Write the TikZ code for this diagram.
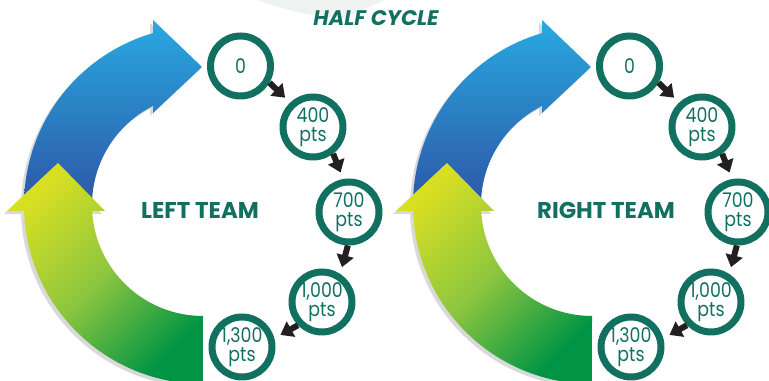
\documentclass[tikz,border=0pt]{standalone}
\usepackage{fontspec}
\setmainfont{Poppins}
\newfontfamily\ptsfont[FakeStretch=0.86]{Poppins}
\usetikzlibrary{arrows.meta,positioning}
\definecolor{teamteal}{HTML}{127060}
\definecolor{arrowblack}{HTML}{231F20}
\definecolor{bluetop}{HTML}{29A9E1}
\definecolor{bluebot}{HTML}{2D56A6}
\definecolor{greentop}{HTML}{D7DF23}
\definecolor{greenmid}{HTML}{8CC63F}
\definecolor{greenbot}{HTML}{009444}
\definecolor{shadowgray}{HTML}{D9D9D9}
\definecolor{swooshgray}{HTML}{EEF3F2}
\begin{document}
\begin{tikzpicture}
[
x=0.02cm, y=-0.02cm,
ptsnode/.style={circle, draw=teamteal, line width=0.14cm, fill=white, minimum size=1.2cm, inner sep=0pt, align=center, text=teamteal, font=\ptsfont\fontsize{11.5}{10.5}\selectfont},
stepflow/.style={draw=arrowblack, line width=0.12cm, -{Triangle[width=0.34cm,length=0.24cm]}, shorten >=0.14cm},
teamlabel/.style={font=\bfseries\fontsize{13}{15}\selectfont, text=teamteal},
titlelabel/.style={font=\bfseries\itshape\fontsize{12}{14}\selectfont, text=teamteal},
blueshade/.style={top color=bluetop, bottom color=bluebot},
greenshade/.style={top color=greentop, bottom color=greenbot, middle color=greenmid, shading angle=45},
shadowfill/.style={fill=shadowgray},
]
\fill[white] (0,0) rectangle (769,381);
\useasboundingbox (0,0) rectangle (769,381);
%draw the faint swoosh and the title
\fill[swooshgray] (258,0) .. controls (290,12) and (320,18) .. (345,18) -- (385,0) -- cycle;
\node[titlelabel] (title) at (376,18) {HALF CYCLE};

%draw the left team
\begin{scope}
\fill[shadowfill,shift={(-3,3)}] (24,205) arc[start angle=180, end angle=253.8, radius=179] -- (153,20) -- (202,67) -- (153,113) -- (153.3,105.8) arc[start angle=243.4, end angle=180, radius=111] -- cycle;
\shade[blueshade] (24,205) arc[start angle=180, end angle=253.8, radius=179] -- (153,20) -- (202,67) -- (153,113) -- (153.3,105.8) arc[start angle=243.4, end angle=180, radius=111] -- cycle;
\fill[shadowfill,shift={(-3,3)}] (24.1,211.2) arc[start angle=178, end angle=90, radius=179] -- (203,316) arc[start angle=90, end angle=177, radius=111] -- (105,211) -- (58,163) -- (7,211) -- cycle;
\shade[greenshade] (24.1,211.2) arc[start angle=178, end angle=90, radius=179] -- (203,316) arc[start angle=90, end angle=177, radius=111] -- (105,211) -- (58,163) -- (7,211) -- cycle;
\node[teamlabel] (lteam) at (200,210) {LEFT TEAM};
\node[ptsnode] (l0) at (240.5,66) {0};
\node[ptsnode] (l400) at (313,127) {400\\pts};
\node[ptsnode] (l700) at (349,212) {700\\pts};
\node[ptsnode] (l1000) at (322,302) {1,000\\pts};
\node[ptsnode] (l1300) at (242,347) {1,300\\pts};
\draw[stepflow] (l0.-30) -- (l400.133);
\draw[stepflow] (l400.-53) -- (l700.100);
\draw[stepflow] (l700.-92) -- (l1000.57);
\draw[stepflow] (l1000.224) -- (l1300.15);
\end{scope}

%draw the right team
\begin{scope}[shift={(389,0)}]
\fill[shadowfill,shift={(-3,3)}] (24,205) arc[start angle=180, end angle=253.8, radius=179] -- (153,20) -- (202,67) -- (153,113) -- (153.3,105.8) arc[start angle=243.4, end angle=180, radius=111] -- cycle;
\shade[blueshade] (24,205) arc[start angle=180, end angle=253.8, radius=179] -- (153,20) -- (202,67) -- (153,113) -- (153.3,105.8) arc[start angle=243.4, end angle=180, radius=111] -- cycle;
\fill[shadowfill,shift={(-3,3)}] (24.1,211.2) arc[start angle=178, end angle=90, radius=179] -- (203,316) arc[start angle=90, end angle=177, radius=111] -- (105,211) -- (58,163) -- (7,211) -- cycle;
\shade[greenshade] (24.1,211.2) arc[start angle=178, end angle=90, radius=179] -- (203,316) arc[start angle=90, end angle=177, radius=111] -- (105,211) -- (58,163) -- (7,211) -- cycle;
\node[teamlabel] (rteam) at (217,210) {RIGHT TEAM};
\node[ptsnode] (r0) at (240.5,66) {0};
\node[ptsnode] (r400) at (313,127) {400\\pts};
\node[ptsnode] (r700) at (349,212) {700\\pts};
\node[ptsnode] (r1000) at (322,302) {1,000\\pts};
\node[ptsnode] (r1300) at (242,347) {1,300\\pts};
\draw[stepflow] (r0.-30) -- (r400.133);
\draw[stepflow] (r400.-53) -- (r700.100);
\draw[stepflow] (r700.-92) -- (r1000.57);
\draw[stepflow] (r1000.224) -- (r1300.15);
\end{scope}
\end{tikzpicture}
\end{document}
